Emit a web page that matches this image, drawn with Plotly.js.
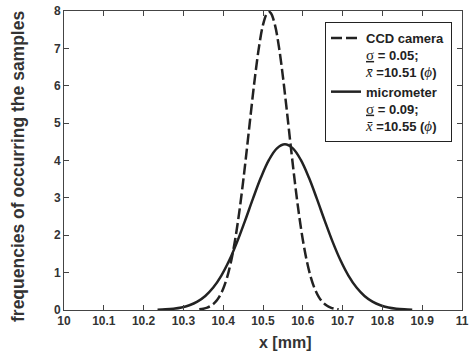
<!DOCTYPE html>
<html><head><meta charset="utf-8">
<script src="https://cdn.plot.ly/plotly-3.0.1.min.js"></script>
<style>html,body{margin:0;padding:0;background:#fff}</style>
</head><body>
<div id="chart" style="width:469px;height:364px"></div>
<script>
// CCD camera (dashed) curve
var ccdX = [10.34,10.35,10.36,10.37,10.38,10.39,10.40,10.41,10.42,10.43,10.44,10.45,10.46,10.47,10.48,10.49,10.50,10.51,10.515,10.52,10.53,10.54,10.55,10.56,10.57,10.58,10.59,10.60,10.61,10.62,10.63,10.64,10.65,10.66,10.67,10.68,10.69];
var ccdY = [0.018,0.035,0.065,0.119,0.208,0.351,0.567,0.880,1.313,1.881,2.591,3.428,4.357,5.322,6.245,7.041,7.628,7.939,7.979,7.939,7.628,7.041,6.245,5.322,4.357,3.428,2.591,1.881,1.313,0.880,0.567,0.351,0.208,0.119,0.065,0.035,0.018];
// micrometer (solid) curve
var micX = [10.235,10.255,10.275,10.295,10.315,10.335,10.355,10.375,10.395,10.415,10.435,10.455,10.475,10.495,10.515,10.535,10.555,10.575,10.595,10.615,10.635,10.655,10.675,10.695,10.715,10.735,10.755,10.775,10.795,10.815,10.835,10.855,10.875];
var micY = [0.008,0.017,0.035,0.068,0.127,0.223,0.375,0.600,0.913,1.322,1.822,2.391,2.986,3.550,4.016,4.325,4.433,4.325,4.016,3.550,2.986,2.391,1.822,1.322,0.913,0.600,0.375,0.223,0.127,0.068,0.035,0.017,0.008];
var xTicks = [10,10.1,10.2,10.3,10.4,10.5,10.6,10.7,10.8,10.9,11];
var xTickText = ["10","10.1","10.2","10.3","10.4","10.5","10.6","10.7","10.8","10.9","11"];
var SERIF = "<span style='font-family:Liberation Serif,serif;font-weight:normal;font-size:15px'>";
var ccdName = "CCD camera<br>" + SERIF + "<u>σ</u></span> = 0.05;<br>" + SERIF + "<i>x̄</i></span> =10.51 (" + SERIF + "<i>ϕ</i></span>)";
var micName = "micrometer<br>" + SERIF + "<u>σ</u></span> = 0.09;<br>" + SERIF + "<i>x̄</i></span> =10.55 (" + SERIF + "<i>ϕ</i></span>)";
var xTitle = "x [mm]";
var yTitle = "frequencies of occurring the samples";

var FAM = "Liberation Sans, Arial, sans-serif";
var fnt = {family: FAM, size: 12, color: "#333", weight: "bold"};
var traces = [
  {x: ccdX, y: ccdY, mode: "lines", name: ccdName, line: {color: "#222", width: 2.5, dash: "11px,4px", shape: "spline"}},
  {x: micX, y: micY, mode: "lines", name: micName, line: {color: "#222", width: 2.5, shape: "spline"}}
];
var axisCommon = {showgrid: false, zeroline: false, showline: true, linecolor: "#444", linewidth: 1,
  mirror: "ticks", ticks: "inside", ticklen: 5, tickcolor: "#444", tickfont: fnt, ticklabeloverflow: "allow"};
var PW = 469 - 64 - 7;
var layout = {
  width: 469, height: 364,
  margin: {l: 64, r: 7, t: 11, b: 54},
  paper_bgcolor: "#fff", plot_bgcolor: "#fff",
  showlegend: true,
  legend: {x: (325 - 64) / PW, y: (310 - 22) / 299, xanchor: "left", yanchor: "top", bgcolor: "#fff",
    bordercolor: "#222", borderwidth: 1, font: {family: FAM, size: 13, color: "#222", weight: "bold"},
    valign: "top", tracegroupgap: 0},
  xaxis: Object.assign({range: [10, 11], tickmode: "array", tickvals: xTicks, ticktext: xTickText}, axisCommon),
  yaxis: Object.assign({range: [0, 8], dtick: 1}, axisCommon),
  annotations: [
    {text: xTitle, xref: "paper", yref: "paper", x: (285 - 64) / PW, y: -(342 - 310) / 299, xanchor: "center", yanchor: "middle",
     showarrow: false, font: {family: FAM, size: 16, color: "#333", weight: "bold"}},
    {text: yTitle, xref: "paper", yref: "paper", x: -(64 - 18) / PW, y: (310 - 167) / 299, xanchor: "center", yanchor: "middle", textangle: -90,
     showarrow: false, font: {family: FAM, size: 17.5, color: "#333", weight: "bold"}}
  ]
};
Plotly.newPlot("chart", traces, layout, {displayModeBar: false, staticPlot: true});
</script>
</body></html>
